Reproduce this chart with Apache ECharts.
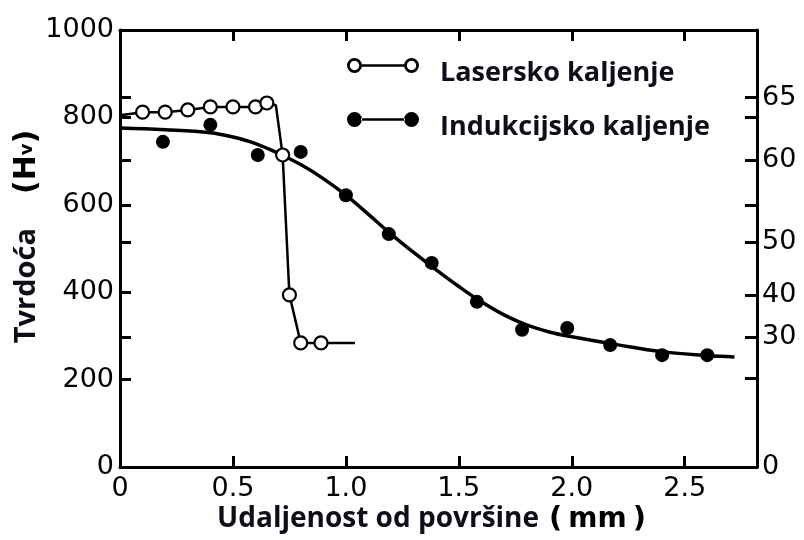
<!DOCTYPE html>
<html><head><meta charset="utf-8">
<script src="https://cdn.jsdelivr.net/npm/echarts@6/dist/echarts.min.js"></script>
<style>html,body{margin:0;padding:0;background:#fff}#c{width:804px;height:540px}</style>
</head><body><div id="c"></div>
<script>
// ---- data ----
const xTicks = [0, 0.5, 1.0, 1.5, 2.0, 2.5];
const xTickLabels = ['0', '0.5', '1.0', '1.5', '2.0', '2.5'];
const hvLabels = [0, 200, 400, 600, 800, 1000];
const hvTicks = [200, 297, 400, 515, 600, 702, 800, 845];
const hrcLabels = ['0', '30', '40', '50', '60', '65'];
const hrcHv = [0, 297, 394, 515, 702, 845];
const hrcTicks = [204, 297, 394, 515, 600, 702, 801, 845];

const laserX = [0, 0.1, 0.2, 0.3, 0.4, 0.5, 0.6, 0.65, 0.69, 0.72, 0.75, 0.8, 0.89, 1.04];
const laserY = [805, 812, 812, 817, 824, 824, 824, 833, 828, 714, 394, 284, 284, 284];
const laserMarked = [false, true, true, true, true, true, true, true, false, true, true, true, true, false];

const inductionX = [0.19, 0.4, 0.61, 0.8, 1.0, 1.19, 1.38, 1.58, 1.78, 1.98, 2.17, 2.4, 2.6];
const inductionY = [744, 783, 714, 721, 622, 533, 467, 378, 314, 318, 279, 256, 256];

const fitX = [0, 0.2, 0.4, 0.5, 0.6, 0.7, 0.8, 0.9, 1.0, 1.1, 1.2, 1.3, 1.4, 1.5, 1.6, 1.7, 1.8, 1.9, 2.0, 2.2, 2.4, 2.6, 2.72];
const fitY = [776, 772, 765, 755, 740, 718, 692, 660, 622, 578, 533, 491, 451, 413, 378, 348, 325, 309, 298, 280, 264, 255, 252];

const seriesNames = ['Lasersko kaljenje', 'Indukcijsko kaljenje'];
const xAxisTitle = 'Udaljenost od površine';
const xAxisUnit = 'mm';
const yAxisTitle = 'Tvrdoća';

// ---- chart ----
const TXT = '#0e0e18';
const tickFont = 'DejaVu Sans';
const titleFont = 'Open Sans';

// icons: visible marks occupy the top 15px; a zero-area stroke at y=30 pads the box
const pad = ' M0,30 L0.1,30';
const openIcon = 'path://M0,7.5 A7.5,7.5 0 1,0 15,7.5 A7.5,7.5 0 1,0 0,7.5 Z M2.8,7.5 A4.7,4.7 0 1,1 12.2,7.5 A4.7,4.7 0 1,1 2.8,7.5 Z ' +
  'M15,6.3 L57,6.3 L57,8.7 L15,8.7 Z ' +
  'M57,7.5 A7.5,7.5 0 1,0 72,7.5 A7.5,7.5 0 1,0 57,7.5 Z M59.8,7.5 A4.7,4.7 0 1,1 69.2,7.5 A4.7,4.7 0 1,1 59.8,7.5 Z' + pad;
const filledIcon = 'path://M0,7.5 A7.5,7.5 0 1,0 15,7.5 A7.5,7.5 0 1,0 0,7.5 Z ' +
  'M14,6.3 L58,6.3 L58,8.7 L14,8.7 Z ' +
  'M57,7.5 A7.5,7.5 0 1,0 72,7.5 A7.5,7.5 0 1,0 57,7.5 Z' + pad;

const chart = echarts.init(document.getElementById('c'), null, {renderer: 'canvas'});

const laserData = laserX.map((x, i) => laserMarked[i]
  ? {value: [x, laserY[i]]}
  : {value: [x, laserY[i]], symbol: 'none'});

const axisLineStyle = {color: '#000', width: 3};

chart.setOption({
  animation: false,
  backgroundColor: '#fff',
  grid: {left: 120, right: 47, top: 30, bottom: 73, outerBoundsMode: 'none', containLabel: false},
  legend: {
    orient: 'vertical',
    left: 342, top: 53,
    itemWidth: 72, itemHeight: 30,
    itemGap: 24,
    data: [
      {name: seriesNames[0], icon: openIcon, itemStyle: {color: '#000', borderWidth: 0}},
      {name: seriesNames[1], icon: filledIcon, itemStyle: {color: '#000', borderWidth: 0}}
    ],
    textStyle: {fontFamily: titleFont, fontWeight: 'bold', fontSize: 27, color: TXT, padding: [0, 0, 0, 16]}
  },
  xAxis: [{
    type: 'value', position: 'bottom', min: 0, max: 2.82,
    axisLine: {show: true, onZero: false, lineStyle: axisLineStyle},
    axisTick: {show: true, inside: true, length: 11, lineStyle: {color: '#000', width: 3}, customValues: xTicks.slice(1)},
    axisLabel: {customValues: xTicks, formatter: v => xTickLabels[xTicks.indexOf(+(+v).toFixed(2))] ?? '',
      fontFamily: tickFont, fontSize: 27, color: '#000', margin: 8},
    splitLine: {show: false},
    name: '{a|' + xAxisTitle + '}{p|(}{m|' + xAxisUnit + '}{p|)}',
    nameLocation: 'middle', nameGap: 38, nameMoveOverlap: false,
    nameTextStyle: {fontFamily: titleFont, fontWeight: 'bold', fontSize: 27, color: TXT, padding: [0, 14, 0, 0], rich: {
      a: {fontFamily: titleFont, fontWeight: 'bold', fontSize: 28, color: TXT, padding: [0, 10, 0, 0]},
      p: {fontFamily: tickFont, fontWeight: 'bold', fontSize: 29, color: '#000'},
      m: {fontFamily: tickFont, fontWeight: 'bold', fontSize: 28, color: '#000', padding: [0, 6, 0, 6]}
    }}
  }, {
    type: 'value', position: 'top', min: 0, max: 2.82,
    axisLine: {show: true, onZero: false, lineStyle: axisLineStyle},
    axisTick: {show: true, inside: true, length: 11, lineStyle: {color: '#000', width: 3}, customValues: xTicks.slice(1)},
    axisLabel: {show: false},
    splitLine: {show: false}
  }],
  yAxis: [{
    type: 'value', position: 'left', min: 0, max: 1000,
    axisLine: {show: true, onZero: false, lineStyle: axisLineStyle},
    axisTick: {show: true, inside: true, length: 11, lineStyle: {color: '#000', width: 3}, customValues: hvTicks},
    axisLabel: {customValues: hvLabels, formatter: v => String(Math.round(v)),
      fontFamily: tickFont, fontSize: 27, color: '#000', margin: 6},
    splitLine: {show: false},
    name: '{a|' + yAxisTitle + '}{b|(H}{c|v}{b|)}',
    nameLocation: 'middle', nameGap: 78, nameRotate: 90, nameMoveOverlap: false,
    nameTextStyle: {fontFamily: titleFont, fontWeight: 'bold', fontSize: 29, color: TXT, padding: [0, 0, 0, 24], rich: {
      a: {fontFamily: titleFont, fontWeight: 'bold', fontSize: 29, color: TXT, padding: [0, 34, 0, 0]},
      b: {fontFamily: tickFont, fontWeight: 'bold', fontSize: 30, color: '#000'},
      c: {fontFamily: tickFont, fontWeight: 'bold', fontSize: 18, color: '#000'}
    }}
  }, {
    type: 'value', position: 'right', min: 0, max: 1000,
    axisLine: {show: true, onZero: false, lineStyle: axisLineStyle},
    axisTick: {show: true, inside: true, length: 12, lineStyle: {color: '#000', width: 3}, customValues: hrcTicks},
    axisLabel: {customValues: hrcHv, formatter: v => hrcLabels[hrcHv.indexOf(Math.round(v))] ?? '',
      fontFamily: tickFont, fontSize: 27, color: '#000', margin: 5},
    splitLine: {show: false}
  }],
  series: [{
    name: seriesNames[1], type: 'line', smooth: 0.4,
    data: fitX.map((x, i) => [x, fitY[i]]),
    showSymbol: false, symbol: 'none',
    lineStyle: {color: '#000', width: 3.5}, z: 2
  }, {
    name: seriesNames[1], type: 'scatter',
    data: inductionX.map((x, i) => [x, inductionY[i]]),
    symbol: 'circle', symbolSize: 14,
    itemStyle: {color: '#000', opacity: 1}, z: 3
  }, {
    name: seriesNames[0], type: 'line',
    data: laserData,
    symbol: 'circle', symbolSize: 13, showSymbol: true,
    itemStyle: {color: '#fff', borderColor: '#000', borderWidth: 2.2},
    lineStyle: {color: '#000', width: 2.5}, z: 4
  }]
});
</script></body></html>
